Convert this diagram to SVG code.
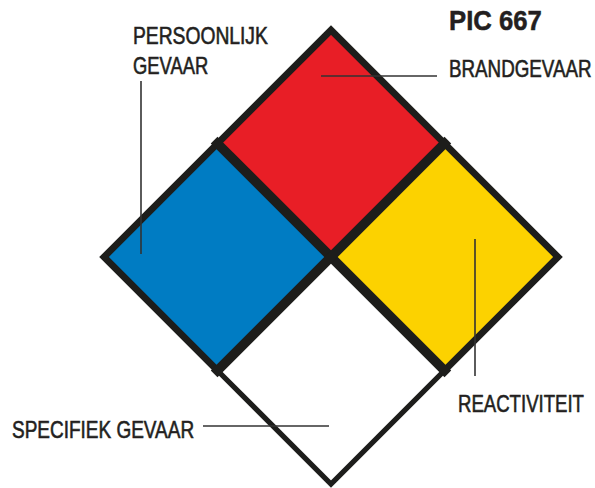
<svg xmlns="http://www.w3.org/2000/svg" width="595" height="488" viewBox="0 0 595 488">
<style>
.lbl{font-family:"Liberation Sans",Arial,sans-serif;font-size:24px;fill:#231f20;stroke:#231f20;stroke-width:0.6}
.title{font-family:"Liberation Sans",Arial,sans-serif;font-size:28px;font-weight:bold;fill:#231f20;stroke:#231f20;stroke-width:0.5}
.edge{fill:none;stroke:#1d1d1b;stroke-linejoin:miter;stroke-linecap:square}
.lead{stroke:#333;stroke-width:1.6;fill:none}
</style>
<rect width="595" height="488" fill="#fff"/>
<g id="fire">
<polygon points="331,30 444.5,143.5 331,257 217.5,143.5" fill="#e81e26"/>
</g>
<g id="health">
<polygon points="217.5,143.5 331,257 217.5,370.5 104,257" fill="#007cc3"/>
</g>
<g id="reactivity">
<polygon points="444.5,143.5 558,257 444.5,370.5 331,257" fill="#fcd200"/>
</g>
<g id="special">
<polygon points="331,257 444.5,370.5 331,484 217.5,370.5" fill="#ffffff"/>
</g>
<g id="borders">
<polyline class="edge" points="217.5,370.5 104,257 331,30 558,257 444.5,370.5" stroke-width="6.8"/>
<polyline class="edge" points="217.5,370.5 331,484 444.5,370.5" stroke-width="5.2"/>
<line class="edge" x1="217.5" y1="143.5" x2="444.5" y2="370.5" stroke-width="9.5" stroke-linecap="butt"/>
<line class="edge" x1="444.5" y1="143.5" x2="217.5" y2="370.5" stroke-width="9.5" stroke-linecap="butt"/>
</g>
<g id="connectors">
<line class="lead" x1="141" y1="81" x2="141" y2="254"/>
<line class="lead" x1="321" y1="76" x2="437" y2="76"/>
<line class="lead" x1="475" y1="239" x2="475" y2="376"/>
<line class="lead" x1="203" y1="426" x2="329" y2="426"/>
</g>
<g id="labels">
<text class="title" transform="translate(449,30) scale(0.92,1)" textLength="101" lengthAdjust="spacingAndGlyphs">PIC 667</text>
<text class="lbl" transform="translate(133,44.3) scale(0.775,1)" textLength="174" lengthAdjust="spacingAndGlyphs">PERSOONLIJK</text>
<text class="lbl" transform="translate(133,74) scale(0.775,1)" textLength="97" lengthAdjust="spacingAndGlyphs">GEVAAR</text>
<text class="lbl" transform="translate(449,77.3) scale(0.775,1)" textLength="184" lengthAdjust="spacingAndGlyphs">BRANDGEVAAR</text>
<text class="lbl" transform="translate(458,411.7) scale(0.775,1)" textLength="162.5" lengthAdjust="spacingAndGlyphs">REACTIVITEIT</text>
<text class="lbl" transform="translate(12,437.7) scale(0.775,1)" textLength="235" lengthAdjust="spacingAndGlyphs">SPECIFIEK GEVAAR</text>
</g>
</svg>
